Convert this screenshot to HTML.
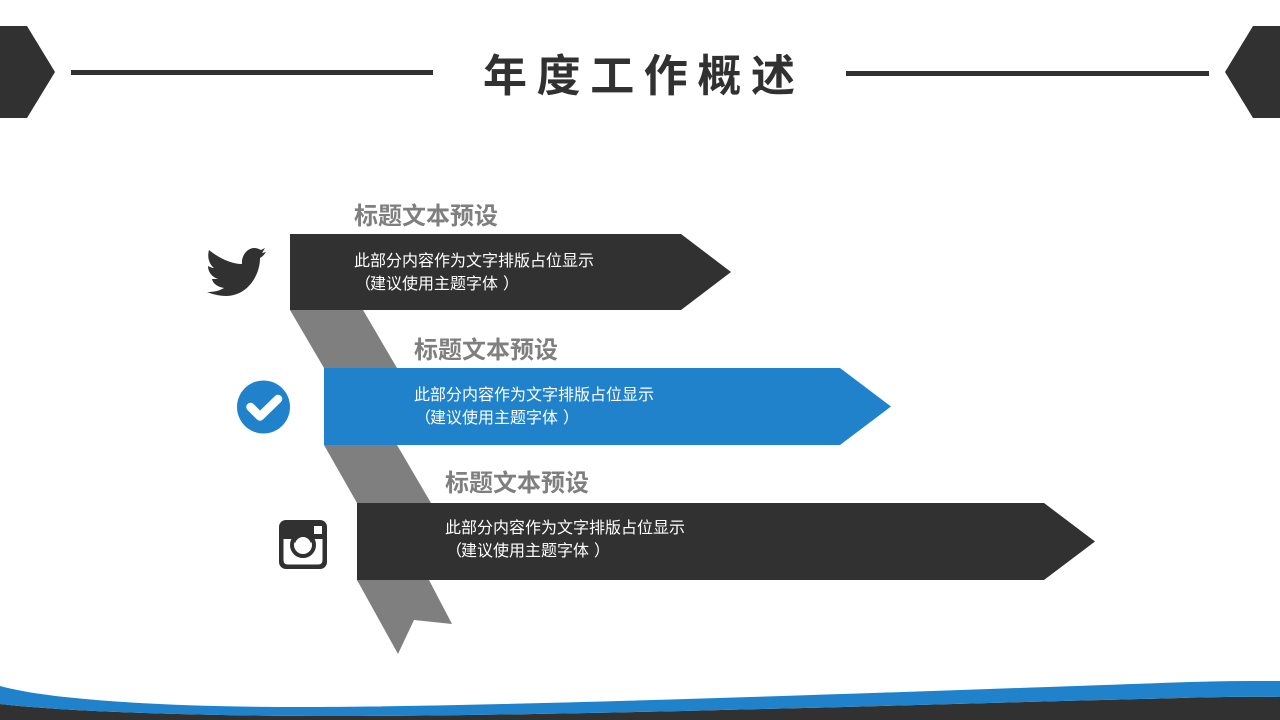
<!DOCTYPE html>
<html lang="zh">
<head>
<meta charset="utf-8">
<style>
html,body{margin:0;padding:0;background:#fff;}
#s{position:relative;width:1280px;height:720px;overflow:hidden;background:#fff;font-family:"Liberation Sans","Noto Sans CJK SC",sans-serif;}
svg{position:absolute;left:0;top:0;}
.t{position:absolute;white-space:nowrap;}
.h{font-size:24px;font-weight:700;color:#7f7f7f;line-height:30px;}
.b{font-size:16px;color:#fff;line-height:23px;}
.b span{position:relative;}
.b .l{left:1px;}
.b .r{left:5px;}
#title{left:483px;top:45px;font-size:44px;font-weight:700;color:#313131;letter-spacing:9.6px;line-height:64px;}
</style>
</head>
<body>
<div id="s">
<svg width="1280" height="720" viewBox="0 0 1280 720">
  <polygon points="0,26 27,26 55,72 27,118 0,118" fill="#313131"/>
  <polygon points="1280,26 1253,26 1225,72 1253,118 1280,118" fill="#313131"/>
  <rect x="71" y="70" width="362" height="5" fill="#313131"/>
  <rect x="846" y="71" width="363" height="5" fill="#313131"/>

  <polygon points="290,310 363,310 397,368 324,368" fill="#7f7f7f"/>
  <polygon points="324,445 397,445 431,503 357,503" fill="#7f7f7f"/>
  <polygon points="357,580 429,580 452,624 414,620 398,654" fill="#7f7f7f"/>

  <polygon points="290,234 681,234 731,272 681,310 290,310" fill="#313131"/>
  <polygon points="324,368 840,368 891,406.500 840,445 324,445" fill="#2082ca"/>
  <polygon points="357,503 1044,503 1095,541.500 1044,580 357,580" fill="#313131"/>

  <!-- twitter bird -->
  <path d="M209,250 C220,259 232,264 242,264 C241,255 248,248 254,248 C257,248 259,249 261,250 L265,248 L262,253 L266,252 C264,255 262,257 260,258 C260,276 247,296 226,296 C219,296 212,294 207,292 C214,292 219,291 224,288 C218,287 213,284 212,279 C214,279 216,279 218,279 C212,277 208,272 208,266 C210,267 212,268 214,268 C209,264 207,257 209,250 Z" fill="#313131"/>

  <!-- check -->
  <circle cx="263.500" cy="407" r="26.500" fill="#2082ca"/>
  <path d="M250.500,407 L260,416.500 L278,399" fill="none" stroke="#fff" stroke-width="8.500" stroke-linecap="round" stroke-linejoin="round"/>

  <!-- instagram -->
  <rect x="279" y="520" width="48" height="49" rx="7" fill="#313131"/>
  <path d="M283.500,539 H292 A12.500,12.500 0 0 0 314,539 H322.500 V560 Q322.500,564.500 318,564.500 H288 Q283.500,564.500 283.500,560 Z" fill="#fff"/>
  <rect x="314" y="526" width="8" height="8" fill="#fff"/>
  <circle cx="303" cy="545" r="8" fill="#fff"/>
  <circle cx="303" cy="545" r="11" fill="none" stroke="#313131" stroke-width="4"/>

  <!-- bottom waves -->
  <path d="M0,704 C70,712 200,716 340,716 C560,716 900,705 1180,698 C1220,697 1250,696.500 1280,697 V720 H0 Z" fill="#313131"/>
  <path d="M0,686 C50,700 170,707 300,707 C500,707 900,692 1190,682 C1220,681 1250,681 1280,681 V697 C1250,696.500 1220,697 1180,698 C900,705 560,716 340,716 C200,716 70,712 0,704 Z" fill="#2082ca"/>
</svg>

<div class="t" id="title">年度工作概述</div>

<div class="t h" style="left:354px;top:202px;">标题文本预设</div>
<div class="t b" style="left:354px;top:250px;">此部分内容作为文字排版占位显示<br><span class="l">（</span>建议使用主题字体<span class="r">）</span></div>

<div class="t h" style="left:414px;top:336px;">标题文本预设</div>
<div class="t b" style="left:414px;top:384px;">此部分内容作为文字排版占位显示<br><span class="l">（</span>建议使用主题字体<span class="r">）</span></div>

<div class="t h" style="left:445px;top:469px;">标题文本预设</div>
<div class="t b" style="left:445px;top:517px;">此部分内容作为文字排版占位显示<br><span class="l">（</span>建议使用主题字体<span class="r">）</span></div>
</div>
</body>
</html>
